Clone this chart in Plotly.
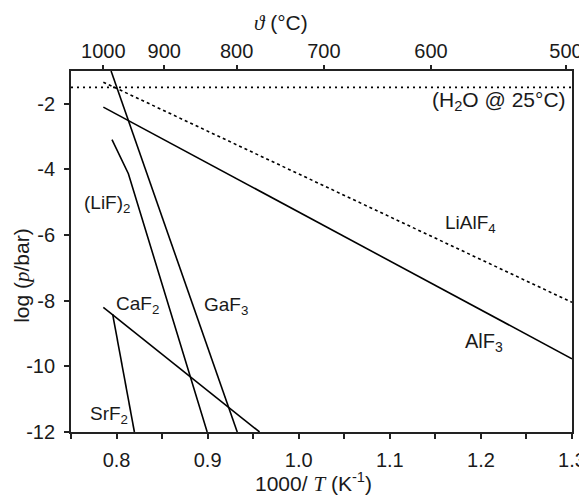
import plotly.graph_objects as go

# ---- data ----
theta_ticks = [1000, 900, 800, 700, 600, 500]          # top axis, °C
x_ticks = [0.8, 0.9, 1.0, 1.1, 1.2, 1.3]                # 1000/T
y_ticks = [-2, -4, -6, -8, -10, -12]                    # log p

alf3_x = [0.7855, 1.30]
alf3_y = [-2.10, -9.77]
lialf4_x = [0.7855, 1.30]
lialf4_y = [-1.34, -8.05]
gaf3_x = [0.7940, 0.9325]
gaf3_y = [-1.00, -12.00]
lif2_x = [0.795, 0.813, 0.8995]
lif2_y = [-3.09, -4.13, -12.00]
caf2_x = [0.7855, 0.957]
caf2_y = [-8.20, -12.00]
srf2_x = [0.7957, 0.8196]
srf2_y = [-8.41, -12.00]
h2o_x = [0.75, 1.30]
h2o_y = [-1.5, -1.5]

FONT = "Liberation Sans, Arial, sans-serif"
SERIF = "Liberation Serif, DejaVu Serif, serif"
TXT = "#1a1a1a"

fig = go.Figure()

def line(x, y, dash="solid"):
    fig.add_trace(go.Scatter(x=x, y=y, mode="lines",
                             line=dict(color="black", width=1.6, dash=dash),
                             showlegend=False, hoverinfo="skip"))

line(h2o_x, h2o_y, "2px,4px")
line(lialf4_x, lialf4_y, "3px,3px")
line(alf3_x, alf3_y)
line(gaf3_x, gaf3_y)
line(lif2_x, lif2_y)
line(caf2_x, caf2_y)
line(srf2_x, srf2_y)

# dummy trace to activate the top axis
fig.add_trace(go.Scatter(x=[None], y=[None], xaxis="x2", yaxis="y",
                         showlegend=False, hoverinfo="skip"))

theta_pos = [1000.0 / (t + 273.15) for t in theta_ticks]

# page body has an 8px margin: figure is 8px smaller and shifted by 8px
fig.update_layout(
    width=579, height=487,
    margin=dict(l=63, r=15, t=63, b=63, autoexpand=False),
    paper_bgcolor="white", plot_bgcolor="white",
    font=dict(family=FONT, size=20, color=TXT),
    xaxis=dict(range=[0.75, 1.3], tickmode="array", tickvals=x_ticks,
               ticktext=[f"{v:.1f}" for v in x_ticks], automargin=False,
               ticks="outside", ticklen=5, tickwidth=1.5, tickcolor="#222",
               ticklabelstandoff=4,
               minor=dict(tickmode="linear", tick0=0.75, dtick=0.05,
                          ticks="outside", ticklen=5, tickwidth=1.5,
                          tickcolor="#222", showgrid=False),
               showline=True, linecolor="#222", linewidth=1.8, mirror=True,
               showgrid=False, zeroline=False),
    xaxis2=dict(range=[0.75, 1.3], overlaying="x", side="top", automargin=False,
                tickmode="array", tickvals=theta_pos,
                ticktext=[str(t) for t in theta_ticks],
                ticks="outside", ticklen=5, tickwidth=1.5, tickcolor="#222",
                ticklabelstandoff=-1,
                showline=False, showgrid=False, zeroline=False),
    yaxis=dict(range=[-12, -1], tickmode="array", tickvals=y_ticks,
               ticktext=[str(v) for v in y_ticks], automargin=False,
               ticks="outside", ticklen=5, tickwidth=1.5, tickcolor="#222",
               ticklabelstandoff=5,
               showline=True, linecolor="#222", linewidth=1.8, mirror=True,
               showgrid=False, zeroline=False),
)

lab = dict(showarrow=False, xref="x", yref="y", xanchor="center", yanchor="middle")
labels = [
    ("(H<sub>2</sub>O @ 25°C)", 1.220, -1.90, 21),
    ("LiAlF<sub>4</sub>", 1.189, -5.65, 19),
    ("AlF<sub>3</sub>", 1.203, -9.28, 20),
    ("(LiF)<sub>2</sub>", 0.7896, -5.04, 19),
    ("CaF<sub>2</sub>", 0.8226, -8.12, 19),
    ("GaF<sub>3</sub>", 0.9197, -8.15, 19),
    ("SrF<sub>2</sub>", 0.7913, -11.48, 19),
]
for t, x, y, s in labels:
    fig.add_annotation(text=t, x=x, y=y,
                       font=dict(size=s, family=FONT, color=TXT), **lab)

tit = dict(showarrow=False, xref="paper", yref="paper",
           xanchor="center", yanchor="middle",
           font=dict(size=21, family=FONT, color=TXT))
fig.add_annotation(text=f"<i><span style='font-family:{SERIF}'>ϑ</span></i> (°C)",
                   x=0.42, y=1.133, **tit)
fig.add_annotation(text=f"1000/ <i><span style='font-family:{SERIF}'>T</span></i> (K<sup>-1</sup>)",
                   x=0.4836, y=-0.140, **tit)
fig.add_annotation(text=f"log (<i><span style='font-family:{SERIF}'>p</span></i>/bar)",
                   x=-0.098, y=0.435, textangle=-90, **tit)

fig.write_html("out.html")
